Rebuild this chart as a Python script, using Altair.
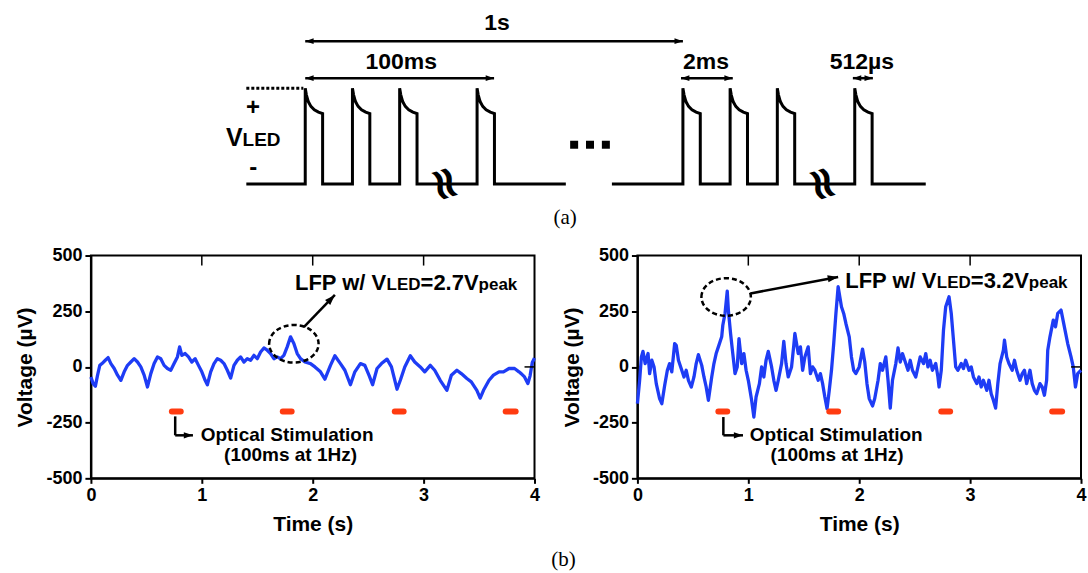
import altair as alt
import pandas as pd

FONT = "Liberation Sans"
SERIF = "Liberation Serif"
BLUE = "#1e3cf5"
RED = "#ff3b10"

# ---------------- (a) pulse schematic (schematic time units, 1 s = 1000) ----------------
group_start = [-156, 812]
group_end = [690, 1643]
pulses_g1 = [0, 125, 250, 455]
pulses_g2 = [1000, 1125, 1250, 1455]
pulse_width = 46
decay_du = [0, 3, 8, 15, 24, 35, 46]
decay_level = [1.0, 0.93, 0.86, 0.81, 0.775, 0.75, 0.735]
break_u = [368, 1368]
dots_u = [712, 754, 796]
dots_level = [0.41, 0.41, 0.41]
dotted_u = [-156, -5]
dim_u1 = [0, 0, 995, 1450]
dim_u2 = [1000, 500, 1132, 1503]
dim_level = [1.49, 1.104, 1.104, 1.104]
dim_labels = ["1s", "100ms", "2ms", "512µs"]
dim_label_u = [508, 254, 1061, 1474]
dim_label_level = [1.677, 1.27, 1.27, 1.27]

# ---------------- (b) LFP traces ----------------
left_t = [0.00, 0.02, 0.04, 0.06, 0.08, 0.10, 0.13, 0.155, 0.18, 0.21, 0.24, 0.27, 0.30, 0.33, 0.36,
          0.39, 0.42, 0.45, 0.48, 0.51, 0.54, 0.57, 0.60, 0.63, 0.66, 0.69, 0.72, 0.75, 0.78, 0.80,
          0.82, 0.85, 0.88, 0.91, 0.94, 0.97, 1.00, 1.03, 1.05, 1.08, 1.11, 1.14, 1.17, 1.20, 1.23,
          1.26, 1.29, 1.32, 1.35, 1.38, 1.41, 1.44, 1.47, 1.50, 1.53, 1.56, 1.59, 1.62, 1.65, 1.68,
          1.71, 1.74, 1.77, 1.80, 1.83, 1.86, 1.89, 1.93, 1.98, 2.02, 2.07, 2.11, 2.16, 2.20, 2.25,
          2.29, 2.34, 2.38, 2.43, 2.47, 2.51, 2.54, 2.58, 2.62, 2.67, 2.71, 2.76, 2.79, 2.83, 2.88,
          2.92, 2.97, 3.01, 3.06, 3.10, 3.15, 3.21, 3.25, 3.30, 3.34, 3.39, 3.43, 3.48, 3.51, 3.54,
          3.59, 3.63, 3.68, 3.72, 3.77, 3.82, 3.86, 3.88, 3.91, 3.94, 3.96, 3.98, 4.00]
left_v = [-45, -75, -87, -37, 7, 15, 30, 42, 15, -7, -37, -60, -22, 7, 22,
          37, 22, 0, -37, -90, -30, 15, 45, 37, 7, -7, -15, 15, 45, 90,
          52, 60, 45, 22, 37, 7, -22, -60, -80, -22, 15, 37, 30, 15, -15,
          -50, 7, 30, 45, 22, 37, 30, 52, 37, 67, 85, 75, 60, 37, 45,
          37, 52, 90, 135, 105, 60, 37, 22, 15, 0, -22, -55, 7, 50, 15,
          -15, -80, -22, 15, 7, -40, -80, -7, 15, 35, 0, -100, -60, 0, 50,
          22, 0, -22, 7, -15, -60, -105, -37, -15, -30, -52, -67, -105, -140, -105,
          -60, -37, -22, -22, -7, -7, -22, -30, -45, -75, -40, 20, 40]

right_t = [0.00, 0.02, 0.036, 0.05, 0.07, 0.096, 0.11, 0.13, 0.15, 0.17, 0.20, 0.22, 0.246, 0.27, 0.29,
           0.31, 0.336, 0.35, 0.37, 0.40, 0.42, 0.44, 0.46, 0.486, 0.51, 0.53, 0.55, 0.58, 0.60, 0.62,
           0.64, 0.67, 0.69, 0.71, 0.73, 0.76, 0.77, 0.79, 0.81, 0.82, 0.84, 0.86, 0.88, 0.90, 0.916,
           0.94, 0.96, 0.98, 1.00, 1.03, 1.05, 1.07, 1.10, 1.12, 1.14, 1.16, 1.18, 1.21, 1.23, 1.25,
           1.27, 1.30, 1.32, 1.34, 1.36, 1.39, 1.41, 1.42, 1.45, 1.47, 1.49, 1.51, 1.54, 1.56, 1.58,
           1.60, 1.63, 1.65, 1.67, 1.69, 1.71, 1.73, 1.75, 1.77, 1.79, 1.81, 1.84, 1.86, 1.88, 1.91,
           1.93, 1.95, 1.97, 2.00, 2.03, 2.05, 2.07, 2.09, 2.12, 2.14, 2.17, 2.19, 2.21, 2.24, 2.26,
           2.28, 2.30, 2.33, 2.35, 2.37, 2.39, 2.42, 2.44, 2.46, 2.48, 2.51, 2.53, 2.55, 2.58, 2.60,
           2.62, 2.64, 2.66, 2.69, 2.71, 2.72, 2.74, 2.76, 2.78, 2.81, 2.83, 2.85, 2.87, 2.89, 2.92,
           2.94, 2.96, 2.99, 3.01, 3.03, 3.06, 3.08, 3.10, 3.12, 3.15, 3.17, 3.19, 3.21, 3.23, 3.25,
           3.27, 3.30, 3.31, 3.33, 3.35, 3.38, 3.40, 3.42, 3.45, 3.47, 3.49, 3.51, 3.54, 3.56, 3.58,
           3.60, 3.63, 3.65, 3.67, 3.69, 3.70, 3.72, 3.75, 3.77, 3.79, 3.82, 3.85, 3.88, 3.91, 3.93,
           3.95, 3.97, 4.00]
right_v = [-165, -60, 45, 70, 15, 60, -30, 30, 0, -75, -142, -165, -82, -15, 15,
           -22, 105, 97, 30, -15, -45, -15, -60, -90, -45, 15, 55, 7, -45, -90,
           -150, -45, 15, 60, 90, 135, 187, 240, 340, 255, 150, 60, -30, 0, 127,
           15, 60, -15, -60, -150, -225, -135, -75, 0, -45, 30, 70, 0, -60, -105,
           -60, 15, 115, 15, -45, 0, 97, 150, 60, 90, -15, 45, 90, -30, 0,
           -15, -60, -30, -75, -135, -187, -105, -15, 105, 240, 360, 270, 240, 195, 135,
           45, -15, -30, 0, 80, 22, -75, -142, -175, -142, -60, 15, -15, 45, -60,
           -185, -60, 15, 85, 22, 60, 15, -15, 30, -15, -45, 0, 45, 15, 60,
           0, 30, -15, 15, -45, -90, -15, 165, 270, 315, 240, 120, 0, -15, 15,
           -7, 30, -15, 0, -45, -75, -45, -90, -60, -105, -60, -120, -150, -185, -75,
           15, 75, 120, 45, 15, -15, 30, -15, -60, -30, -15, -75, -15, -75, -105,
           -120, -75, -90, -127, -60, 75, 135, 210, 180, 240, 255, 180, 105, 45, 0,
           -90, -30, -15]

stim_start = [0.73, 1.73, 2.74, 3.74]
stim_end = [0.81, 1.81, 2.82, 3.83]
stim_level = -200
time_ticks = [0, 1, 2, 3, 4]
volt_ticks = [-500, -250, 0, 250, 500]
inner_ticks = [1, 2, 3]

left_ann = dict(ell_t=1.83, ell_v=104, arr_t1=1.92, arr_v1=179, arr_t2=2.20, arr_v2=323,
                lfp_t=1.84, lfp_v=345, lfp_val="=2.7V", opt_t=0.99, opt_v=-307,
                opt2_t=1.80, opt2_v=-397, L_t=0.76, L_v1=-222, L_v2=-307, L_t2=0.92)
right_ann = dict(ell_t=0.80, ell_v=314, arr_t1=1.02, arr_v1=330, arr_t2=1.81, arr_v2=404,
                 lfp_t=1.874, lfp_v=354, lfp_val="=3.2V", opt_t=1.014, opt_v=-307,
                 opt2_t=1.80, opt2_v=-397, L_t=0.775, L_v1=-225, L_v2=-307, L_t2=0.952)

HEAD_UP = "M0,0L0.55,1.6L-0.55,1.6Z"

# ---------------- build (a) ----------------
wave_rows = []
for g, (gs, ge, plist) in enumerate(zip(group_start, group_end, [pulses_g1, pulses_g2])):
    pts = [(gs, 0.0)]
    for p in plist:
        pts.append((p, 0.0))
        for du, lv in zip(decay_du, decay_level):
            pts.append((p + du, lv))
        pts.append((p + pulse_width, 0.0))
    pts.append((ge, 0.0))
    for i, (u, lv) in enumerate(pts):
        wave_rows.append({"u": u, "lv": lv, "g": g, "o": i})
wave_df = pd.DataFrame(wave_rows)

XS = alt.Scale(domain=[-567.5, 2025], nice=False, zero=False)
YS = alt.Scale(domain=[-0.49, 1.906], nice=False, zero=False)


def ax(field="u"):
    return alt.X(f"{field}:Q", scale=XS, axis=None)


def ay(field="lv"):
    return alt.Y(f"{field}:Q", scale=YS, axis=None)


wave = alt.Chart(wave_df).mark_line(color="black", strokeWidth=3, strokeJoin="miter").encode(
    x=ax(), y=ay(), detail="g:N", order="o:Q")

dotted = alt.Chart(pd.DataFrame({"u": [dotted_u[0]], "u2": [dotted_u[1]], "lv": [1.0]})).mark_rule(
    color="black", strokeWidth=3, strokeDash=[3, 2]).encode(x=ax(), x2="u2:Q", y=ay())

brk = alt.Chart(pd.DataFrame({"u": break_u, "lv": [0.0] * len(break_u)})).mark_text(
    text="≈", font="DejaVu Sans", fontSize=46, fontWeight="bold", angle=72, color="black",
    baseline="middle", align="center").encode(x=ax(), y=ay())

dots = alt.Chart(pd.DataFrame({"u": dots_u, "lv": dots_level})).mark_point(
    shape="square", size=64, filled=True, color="black", opacity=1).encode(x=ax(), y=ay())

dim_df = pd.DataFrame({"u": dim_u1, "u2": dim_u2, "lv": dim_level})
dim_rules = alt.Chart(dim_df).mark_rule(color="black", strokeWidth=2.5).encode(
    x=ax(), x2="u2:Q", y=ay())
dim_head_l = alt.Chart(dim_df).mark_point(shape=HEAD_UP, size=110, filled=True, color="black",
                                          opacity=1, angle=270).encode(x=ax(), y=ay())
dim_head_r = alt.Chart(dim_df).mark_point(shape=HEAD_UP, size=110, filled=True, color="black",
                                          opacity=1, angle=90).encode(x=ax("u2"), y=ay())
dim_text = alt.Chart(pd.DataFrame({"u": dim_label_u, "lv": dim_label_level, "txt": dim_labels})).mark_text(
    font=FONT, fontWeight="bold", fontSize=23, color="black", baseline="middle", align="center").encode(
    x=ax(), y=ay(), text="txt:N")

vled_df = pd.DataFrame({"u": [-210], "lv": [0.396]})
v_big = alt.Chart(vled_df).mark_text(text="V", font=FONT, fontWeight="bold", fontSize=25, color="black",
                                     align="left", baseline="alphabetic").encode(x=ax(), y=ay())
v_small = alt.Chart(vled_df).mark_text(text="LED", font=FONT, fontWeight="bold", fontSize=19, color="black",
                                       align="left", baseline="alphabetic", dx=16.7).encode(x=ax(), y=ay())
pm_df = pd.DataFrame({"u": [-138, -138], "lv": [0.79, 0.167], "txt": ["+", "-"]})
pm = alt.Chart(pm_df).mark_text(font=FONT, fontWeight="bold", fontSize=24, color="black",
                                align="center", baseline="middle").encode(x=ax(), y=ay(), text="txt:N")
lab_a = alt.Chart(pd.DataFrame({"u": [688], "lv": [-0.355]})).mark_text(
    text="(a)", font=SERIF, fontSize=21, color="black", align="center", baseline="middle").encode(
    x=ax(), y=ay())

top = alt.layer(wave, dotted, brk, dots, dim_rules, dim_head_l, dim_head_r, dim_text,
                v_big, v_small, pm, lab_a).properties(
    width=980, height=230, view=alt.ViewBackground(stroke="transparent"))

# ---------------- build (b) ----------------
TS = alt.Scale(domain=[0, 4], nice=False, zero=False)
VS = alt.Scale(domain=[-500, 500], nice=False, zero=False)

X_AXIS = alt.Axis(values=time_ticks, format="d", labelFont=FONT, labelFontWeight="bold",
                  labelFontSize=18, labelColor="black", labelFlush=False, labelPadding=3,
                  tickColor="black", tickSize=5, tickWidth=2, domainColor="black", domainWidth=2,
                  grid=False, title="Time (s)", titleFont=FONT, titleFontWeight="bold",
                  titleFontSize=21, titleColor="black", titlePadding=9)
Y_AXIS = alt.Axis(values=volt_ticks, labelExpr="'' + datum.value", labelFont=FONT,
                  labelFontWeight="bold", labelFontSize=18,
                  labelColor="black", labelFlush=False, labelPadding=3, labelOverlap=False,
                  tickColor="black", tickSize=6, tickWidth=2, domainColor="black", domainWidth=2,
                  grid=False, title="Voltage (µV)", titleFont=FONT, titleFontWeight="bold",
                  titleFontSize=21, titleColor="black", titlePadding=10)


def X(f="t"):
    return alt.X(f"{f}:Q", scale=TS, axis=X_AXIS)


def Y(f="v"):
    return alt.Y(f"{f}:Q", scale=VS, axis=Y_AXIS)


def panel(t, v, a, head_angle):
    trace = alt.Chart(pd.DataFrame({"t": t, "v": v})).mark_line(
        color=BLUE, strokeWidth=3.3, strokeJoin="round").encode(x=X("t"), y=Y("v"))

    stim = alt.Chart(pd.DataFrame({"t": stim_start, "t2": stim_end, "v": [stim_level] * len(stim_start)})
                     ).mark_rule(color=RED, strokeWidth=6, strokeCap="round").encode(
        x=X(), x2="t2:Q", y=Y())

    tick_top = alt.Chart(pd.DataFrame({"t": inner_ticks, "v": [500] * 3, "v2": [455] * 3})).mark_rule(
        color="black", strokeWidth=1.5).encode(x=X(), y=Y(), y2="v2:Q")
    tick_right = alt.Chart(pd.DataFrame({"t": [3.91], "t2": [4.0], "v": [0]})).mark_rule(
        color="black", strokeWidth=1.5).encode(x=X(), x2="t2:Q", y=Y())

    ell = alt.Chart(pd.DataFrame({"t": [a["ell_t"]], "v": [a["ell_v"]]})).mark_point(
        shape="M-1,0A1,0.76,0,1,1,1,0A1,0.76,0,1,1,-1,0Z", size=2450, filled=False, color="black",
        strokeWidth=2.5, strokeDash=[5, 3], opacity=1).encode(x=X(), y=Y())

    arr_df = pd.DataFrame({"t": [a["arr_t1"]], "v": [a["arr_v1"]], "t2": [a["arr_t2"]], "v2": [a["arr_v2"]]})
    arr = alt.Chart(arr_df).mark_rule(color="black", strokeWidth=2.5).encode(
        x=X(), y=Y(), x2="t2:Q", y2="v2:Q")
    arr_head = alt.Chart(arr_df).mark_point(shape=HEAD_UP, size=170, filled=True, color="black",
                                            opacity=1, angle=head_angle).encode(x=X("t2"), y=Y("v2"))

    L_df = pd.DataFrame({"t": [a["L_t"]], "v": [a["L_v1"]], "v2": [a["L_v2"]], "t2": [a["L_t2"]]})
    L_vert = alt.Chart(L_df).mark_rule(color="black", strokeWidth=2.5).encode(x=X(), y=Y(), y2="v2:Q")
    L_hor = alt.Chart(L_df).mark_rule(color="black", strokeWidth=2.5).encode(x=X(), x2="t2:Q", y=Y("v2"))
    L_head = alt.Chart(L_df).mark_point(shape=HEAD_UP, size=130, filled=True, color="black",
                                        opacity=1, angle=90).encode(x=X("t2"), y=Y("v2"))

    lfp_df = pd.DataFrame({"t": [a["lfp_t"]], "v": [a["lfp_v"]]})
    pieces = [("LFP w/ V", 22, 0), ("LED", 17, 91.7), (a["lfp_val"], 22, 125.7), ("peak", 17, 183.8)]
    lfp_layers = [alt.Chart(lfp_df).mark_text(text=txt, font=FONT, fontWeight="bold", fontSize=fs,
                                              color="black", align="left", baseline="alphabetic",
                                              dx=dx).encode(x=X(), y=Y())
                  for txt, fs, dx in pieces]

    opt = alt.Chart(pd.DataFrame({"t": [a["opt_t"]], "v": [a["opt_v"]]})).mark_text(
        text="Optical Stimulation", font=FONT, fontWeight="bold", fontSize=19, color="black",
        align="left", baseline="middle").encode(x=X(), y=Y())
    opt2 = alt.Chart(pd.DataFrame({"t": [a["opt2_t"]], "v": [a["opt2_v"]]})).mark_text(
        text="(100ms at 1Hz)", font=FONT, fontWeight="bold", fontSize=19, color="black",
        align="center", baseline="middle").encode(x=X(), y=Y())

    return alt.layer(trace, stim, tick_top, tick_right, ell, arr, arr_head, L_vert, L_hor, L_head,
                     *lfp_layers, opt, opt2).properties(
        width=444, height=223, view=alt.ViewBackground(stroke="black", strokeWidth=2))


left = panel(left_t, left_v, left_ann, 44)
right = panel(right_t, right_v, right_ann, 80)

bottom = alt.hconcat(left, right, spacing=18).properties(
    title=alt.TitleParams("(b)", orient="bottom", anchor="middle", font=SERIF, fontSize=21,
                          fontWeight="normal", color="black", offset=14, dx=13))

chart = alt.vconcat(top, bottom, spacing=13.5).properties(
    padding={"left": 13, "top": 0, "right": 0, "bottom": 0}).configure(background="white")

chart.save("out.html", embed_options={"renderer": "svg", "actions": False})
